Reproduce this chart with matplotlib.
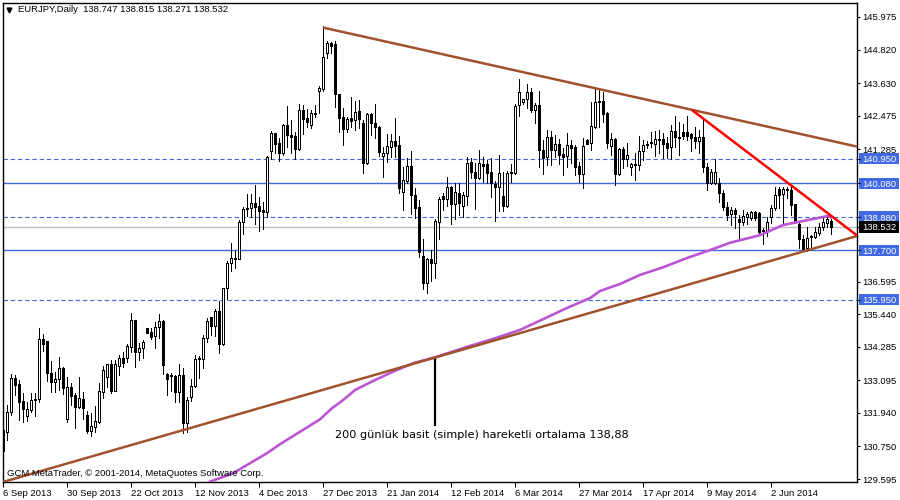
import matplotlib
matplotlib.use("Agg")
import matplotlib.pyplot as plt
from matplotlib.patches import Rectangle

# EURJPY daily candles, one value per bar (0 = 6 Sep 2013)
open_prices = [
    131.33, 131.25, 131.98, 133.16, 132.96, 132.36, 131.84, 132.04, 132.43, 132.42,
    134.55, 134.49, 133.37, 133.02, 133.13, 133.52, 131.74, 132.84, 132.57, 132.16,
    132.43, 131.86, 131.31, 131.45, 131.63, 132.69, 133.22, 133.67, 132.72, 133.60,
    133.87, 133.87, 134.29, 135.23, 134.11, 134.23, 134.94, 134.79, 134.68, 134.97,
    135.18, 133.32, 133.28, 133.25, 132.69, 133.30, 131.59, 132.51, 132.89, 133.84,
    133.84, 134.60, 135.33, 135.03, 135.54, 134.38, 136.35, 137.24, 137.39, 137.40,
    138.69, 139.17, 139.21, 139.37, 139.27, 139.12, 139.07, 141.24, 141.85, 141.50,
    141.14, 142.13, 141.79, 141.76, 141.31, 142.68, 142.39, 142.16, 142.54, 143.36,
    143.41, 144.69, 145.04, 145.02, 143.23, 142.44, 141.99, 142.38, 142.31, 142.64,
    142.20, 140.79, 142.52, 142.20, 142.06, 141.06, 141.14, 141.38, 141.57, 141.42,
    139.78, 140.17, 140.69, 139.68, 139.23, 137.50, 136.55, 137.38, 137.26, 138.72,
    139.62, 139.51, 139.93, 139.33, 139.72, 139.28, 139.64, 140.82, 140.47, 140.28,
    140.75, 140.76, 140.47, 140.05, 139.96, 139.63, 139.27, 140.43, 140.45, 142.84,
    142.97, 143.05, 143.30, 142.68, 142.85, 141.26, 141.02, 141.71, 141.26, 141.46,
    141.12, 141.05, 141.44, 141.35, 140.69, 140.41, 141.61, 141.49, 142.09, 142.98,
    143.00, 142.58, 141.41, 141.64, 140.41, 141.28, 140.94, 140.67, 140.74, 140.74,
    141.21, 141.45, 141.53, 141.47, 141.62, 141.64, 141.49, 141.36, 141.93, 141.73,
    141.91, 141.90, 141.83, 141.71, 141.59, 141.71, 140.67, 140.08, 140.08, 140.08,
    139.72, 139.23, 138.99, 139.13, 138.81, 138.72, 138.87, 138.84, 139.05, 139.01,
    138.42, 138.40, 138.87, 139.19, 139.86, 139.69, 139.88, 139.84, 139.34, 138.63,
    138.10, 137.77, 138.21, 138.18, 138.33, 138.54, 138.68, 138.747,
]
high_prices = [
    131.48, 132.22, 133.32, 133.30, 133.10, 132.63, 132.34, 132.63, 132.65, 134.94,
    134.73, 134.49, 133.78, 133.40, 133.91, 133.55, 133.20, 133.01, 132.63, 133.20,
    132.69, 132.02, 131.92, 132.18, 133.01, 133.60, 133.69, 133.81, 133.81, 133.99,
    134.11, 134.38, 135.47, 135.25, 134.40, 134.52, 134.94, 134.94, 135.17, 135.43,
    135.23, 133.34, 133.34, 133.28, 133.69, 133.52, 132.51, 133.13, 133.99, 133.95,
    134.70, 135.31, 135.35, 135.64, 135.90, 136.38, 137.32, 137.95, 137.69, 138.78,
    139.23, 139.70, 139.70, 140.02, 139.58, 139.43, 141.05, 141.93, 141.86, 141.67,
    142.18, 142.82, 142.32, 141.91, 142.89, 142.85, 142.71, 142.68, 142.85, 143.53,
    145.66, 145.14, 145.10, 145.11, 143.24, 142.74, 142.44, 143.13, 143.00, 143.03,
    142.32, 142.58, 142.58, 142.88, 142.12, 141.38, 141.83, 141.83, 142.38, 141.76,
    140.67, 140.99, 141.22, 139.90, 139.49, 138.10, 137.42, 137.71, 138.81, 139.58,
    139.75, 140.31, 139.98, 140.08, 140.08, 139.78, 141.00, 140.96, 140.79, 141.26,
    141.00, 140.90, 140.96, 140.17, 141.08, 140.49, 140.53, 140.76, 142.88, 143.78,
    143.05, 143.60, 143.45, 142.91, 143.35, 141.61, 141.97, 141.94, 141.79, 141.64,
    141.32, 141.85, 141.61, 141.44, 140.84, 141.67, 141.65, 142.95, 143.41, 143.39,
    143.33, 142.62, 141.85, 141.67, 141.32, 141.35, 141.52, 140.81, 141.14, 141.75,
    141.61, 141.58, 141.91, 141.93, 141.97, 141.87, 141.71, 142.14, 142.46, 142.26,
    142.17, 142.46, 141.87, 142.09, 141.97, 142.32, 140.79, 140.59, 140.94, 140.25,
    139.84, 139.43, 139.25, 139.19, 138.95, 139.13, 139.07, 139.10, 139.10, 139.07,
    138.48, 138.87, 139.31, 139.93, 139.96, 139.96, 139.96, 140.02, 139.34, 138.66,
    138.24, 138.52, 138.24, 138.52, 138.66, 138.84, 138.95, 138.815,
]
low_prices = [
    129.85, 130.98, 131.86, 132.57, 131.68, 131.63, 131.66, 131.98, 131.83, 132.34,
    134.14, 133.08, 132.69, 132.69, 132.75, 132.61, 131.63, 132.22, 131.42, 132.10,
    131.74, 131.24, 131.13, 131.25, 131.57, 132.45, 132.87, 132.63, 132.71, 133.28,
    133.55, 133.75, 134.11, 133.58, 133.81, 133.87, 134.76, 134.55, 134.25, 134.58,
    133.32, 132.57, 132.72, 132.34, 132.34, 131.21, 131.27, 132.37, 132.87, 133.16,
    133.52, 134.46, 134.70, 134.66, 134.07, 134.34, 135.97, 136.98, 137.07, 137.39,
    138.29, 138.92, 138.87, 138.63, 138.40, 138.45, 138.87, 140.94, 141.14, 140.88,
    141.08, 141.38, 141.17, 140.94, 141.26, 141.83, 142.06, 142.03, 142.42, 142.58,
    143.36, 144.51, 144.69, 142.80, 141.91, 141.43, 141.91, 142.09, 141.97, 142.03,
    140.46, 140.76, 141.79, 141.67, 141.05, 140.29, 140.85, 141.02, 141.02, 139.72,
    139.13, 140.08, 138.99, 138.84, 137.48, 136.33, 136.20, 136.60, 136.73, 138.10,
    139.13, 139.27, 138.63, 138.82, 138.95, 138.87, 139.31, 140.25, 139.17, 140.23,
    140.14, 140.08, 139.60, 138.75, 139.11, 139.10, 139.23, 140.14, 140.41, 142.48,
    142.89, 142.74, 142.62, 142.20, 140.67, 140.41, 140.73, 140.73, 141.02, 140.76,
    140.37, 140.67, 140.79, 140.37, 140.14, 139.92, 141.47, 141.26, 142.05, 142.09,
    142.26, 141.32, 141.08, 140.02, 140.37, 140.61, 140.69, 140.37, 140.19, 140.55,
    140.90, 141.32, 141.35, 141.05, 141.14, 140.96, 140.96, 140.93, 141.35, 141.08,
    141.64, 141.61, 141.23, 141.32, 141.14, 140.49, 139.84, 140.05, 140.04, 139.43,
    139.13, 138.78, 138.60, 138.48, 138.09, 138.60, 138.63, 138.78, 138.78, 138.28,
    137.92, 138.21, 138.66, 139.13, 139.19, 138.63, 139.54, 138.95, 138.66, 137.80,
    137.71, 137.69, 137.77, 138.15, 138.24, 138.42, 138.52, 138.271,
]
close_prices = [
    130.60, 131.96, 133.16, 132.93, 132.34, 132.07, 132.06, 132.38, 132.39, 134.55,
    134.37, 133.36, 133.02, 133.13, 133.52, 132.81, 132.84, 132.54, 132.16, 132.45,
    132.12, 131.31, 131.47, 131.64, 132.71, 133.46, 133.67, 132.71, 133.67, 133.87,
    133.72, 134.31, 135.23, 134.11, 134.23, 134.45, 134.78, 134.64, 134.97, 135.18,
    133.65, 133.13, 133.25, 132.69, 133.30, 131.59, 132.38, 132.91, 133.84, 133.87,
    134.58, 135.18, 135.03, 135.54, 134.38, 136.35, 137.24, 137.42, 137.42, 138.69,
    139.17, 139.19, 139.37, 139.25, 139.11, 139.07, 141.00, 141.85, 141.47, 141.17,
    142.13, 141.79, 141.73, 141.31, 142.67, 142.37, 142.26, 142.56, 142.56, 143.45,
    144.55, 145.04, 144.96, 143.23, 142.41, 142.02, 142.37, 142.30, 142.62, 142.37,
    140.79, 142.52, 142.20, 142.09, 141.20, 141.14, 141.41, 141.57, 141.41, 139.92,
    140.20, 140.69, 139.68, 139.19, 137.65, 136.55, 137.39, 137.26, 138.74, 139.51,
    139.51, 139.93, 139.33, 139.76, 139.39, 139.66, 140.79, 140.47, 140.28, 140.79,
    140.70, 140.46, 140.08, 139.96, 140.43, 139.29, 140.43, 140.47, 142.82, 143.30,
    143.05, 143.30, 142.68, 142.84, 141.26, 140.96, 141.71, 141.26, 141.46, 141.08,
    141.02, 141.44, 141.34, 140.67, 140.41, 141.40, 141.47, 142.11, 142.96, 142.95,
    142.54, 141.52, 141.64, 140.41, 141.29, 140.95, 141.07, 140.75, 140.75, 141.21,
    141.42, 141.46, 141.49, 141.64, 141.64, 141.47, 141.34, 141.92, 141.73, 141.69,
    141.75, 141.75, 141.69, 141.59, 141.71, 140.67, 140.08, 140.47, 140.47, 139.72,
    139.25, 138.95, 139.13, 138.99, 138.72, 138.92, 138.99, 139.07, 138.84, 138.34,
    138.37, 138.69, 139.19, 139.66, 139.66, 139.88, 139.84, 139.31, 138.72, 138.09,
    137.76, 138.13, 138.16, 138.34, 138.54, 138.69, 138.80, 138.532,
]

# 200 day simple moving average, sampled along the curve
ma_bars = [51.75, 57.5, 66, 69.25, 74.25, 79.25, 82.2, 85, 88, 92.5, 97.5, 102.5, 108,
           116, 122.5, 129.25, 135, 141, 146.75, 149.25, 154.25, 159.25, 165, 171,
           176.75, 181.75, 189.25, 195, 199.25, 206.25, 207]
ma_values = [129.50, 129.80, 130.51, 130.83, 131.27, 131.71, 132.10, 132.39, 132.75,
             133.07, 133.40, 133.70, 133.91, 134.28, 134.56, 134.88, 135.26, 135.66,
             136.01, 136.26, 136.51, 136.83, 137.10, 137.43, 137.71, 137.97, 138.24,
             138.60, 138.72, 138.92, 138.88]

# trend lines: (bar, price) at both ends
down_bars = [80, 213.5]
down_prices = [145.60, 141.38]
up_bars = [0, 213.5]
up_prices = [129.49, 138.21]
red_bars = [172.2, 213.5]
red_prices = [142.68, 138.23]
pointer_bars = [108, 108]
pointer_prices = [133.91, 131.47]

dashed_levels = [140.950, 138.880, 135.950]
solid_levels = [140.080, 137.700]
last_price = 138.532

x_ticks = list(range(0, 208, 16))
x_labels = ["6 Sep 2013", "30 Sep 2013", "22 Oct 2013", "12 Nov 2013", "4 Dec 2013",
            "27 Dec 2013", "21 Jan 2014", "12 Feb 2014", "6 Mar 2014", "27 Mar 2014",
            "17 Apr 2014", "9 May 2014", "2 Jun 2014"]
y_ticks = [145.975, 144.820, 143.630, 142.475, 141.285, 136.595, 135.440, 134.285,
           133.095, 131.940, 130.750, 129.595]

BLUE = "#4169E1"
BROWN = "#A0522D"
PURPLE = "#BA55D3"
RED = "#FF0000"
SILVER = "#C0C0C0"
TICK_FONT = "Liberation Sans"
TICK_SIZE = 6.8

fig = plt.figure(figsize=(9, 5), dpi=100, facecolor="white")
ax = fig.add_axes([3 / 900, 18 / 500, 854 / 900, 479 / 500])
ax.set_xlim(0, 213.5)
ax.set_ylim(129.489, 146.471)

# horizontal levels sit behind the candles
for level in dashed_levels:
    ax.axhline(level, color=BLUE, lw=0.8, ls=(0, (4, 2.5)), zorder=1)
for level in solid_levels:
    ax.axhline(level, color=BLUE, lw=1.0, zorder=1)
ax.axhline(last_price, color=SILVER, lw=1.0, zorder=1)

# candles
bars = list(range(len(open_prices)))
ax.vlines(bars, low_prices, high_prices, color="black", lw=0.72, zorder=2, antialiased=False)
body_base = [min(o, c) for o, c in zip(open_prices, close_prices)]
body_size = [abs(c - o) for o, c in zip(open_prices, close_prices)]
body_color = ["white" if c >= o else "black" for o, c in zip(open_prices, close_prices)]
ax.bar(bars, body_size, bottom=body_base, width=0.5, color=body_color,
       edgecolor="black", linewidth=0.72, zorder=2.5, antialiased=False)

# drawn objects on top
ax.plot(ma_bars, ma_values, color=PURPLE, lw=1.9, zorder=3)
ax.plot(down_bars, down_prices, color=BROWN, lw=1.8, zorder=3.2, solid_capstyle="butt")
ax.plot(up_bars, up_prices, color=BROWN, lw=1.8, zorder=3.2, solid_capstyle="butt")
ax.plot(red_bars, red_prices, color=RED, lw=1.8, zorder=3.3, solid_capstyle="butt")
ax.plot(pointer_bars, pointer_prices, color="black", lw=1.6, zorder=3.1, solid_capstyle="butt")

# axes
for side in ["top", "left", "bottom", "right"]:
    ax.spines[side].set_linewidth(1.0)
ax.yaxis.tick_right()
all_y = y_ticks + dashed_levels + solid_levels + [last_price]
ax.set_yticks(all_y)
ax.set_yticklabels([f"{v:.3f}" for v in all_y], fontsize=TICK_SIZE, family=TICK_FONT, color="black")
ax.tick_params(axis="y", length=2.5, width=0.8, pad=1.5)
ax.set_xticks(x_ticks)
ax.set_xticklabels(x_labels, fontsize=TICK_SIZE, family=TICK_FONT, ha="left", color="black")
ax.tick_params(axis="x", length=3.5, width=0.8, pad=1.5)

# level labels get a filled box, like the terminal draws them
highlight = dashed_levels + solid_levels
box_transform = ax.get_yaxis_transform()
for value, label in zip(all_y, ax.get_yticklabels()):
    if value in highlight:
        label.set_color("white")
        ax.add_patch(Rectangle((1.0023, value - 0.2), 0.0468, 0.4, transform=box_transform,
                               facecolor=BLUE, edgecolor="none", clip_on=False, zorder=0.5))
    elif value == last_price:
        label.set_color("white")
        ax.add_patch(Rectangle((1.0023, value - 0.2), 0.0468, 0.4, transform=box_transform,
                               facecolor="black", edgecolor="none", clip_on=False, zorder=0.6))

# header, footer and note
ax.plot([0.007], [0.985], marker="v", color="black", ms=3.5, transform=ax.transAxes,
        clip_on=False, zorder=5)
fig.text(18 / 900, 1 - 10 / 500, "EURJPY,Daily  138.747 138.815 138.271 138.532",
         fontsize=TICK_SIZE, family=TICK_FONT, va="center", color="black")
fig.text(7 / 900, 1 - 474 / 500, "GCM MetaTrader, © 2001-2014, MetaQuotes Software Corp.",
         fontsize=TICK_SIZE, family=TICK_FONT, va="center", color="black", zorder=6)
fig.text(335 / 900, 1 - 435 / 500, "200 günlük basit (simple) hareketli ortalama 138,88",
         fontsize=8.15, family="DejaVu Sans", va="center", color="black")

fig.savefig("out.png", dpi=100, facecolor="white")
